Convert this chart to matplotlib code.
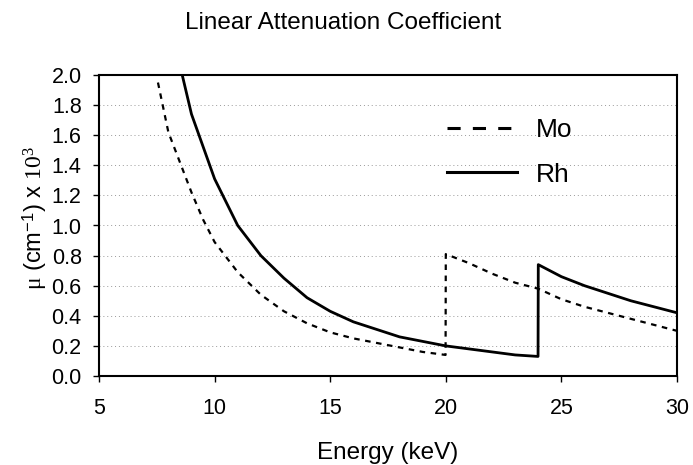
import matplotlib
matplotlib.use('Agg')
import matplotlib.pyplot as plt
from matplotlib.lines import Line2D

plt.rcParams['font.family'] = ['Liberation Sans', 'DejaVu Sans']
plt.rcParams['mathtext.fontset'] = 'custom'
plt.rcParams['mathtext.rm'] = 'Liberation Serif'
plt.rcParams['mathtext.it'] = 'Liberation Serif:italic'

# Mo curve (K-edge at 20 keV)
mo_energy = [7.55, 8, 8.5, 9, 9.5, 10, 11, 12, 13, 14, 15, 16, 17, 18, 19, 19.99,
             20, 21, 22, 23, 24, 25, 26, 27, 28, 29, 30]
mo_mu = [1.95, 1.62, 1.42, 1.22, 1.04, 0.89, 0.69, 0.54, 0.43, 0.35, 0.29,
         0.25, 0.22, 0.19, 0.16, 0.14,
         0.81, 0.75, 0.68, 0.62, 0.58, 0.51, 0.46, 0.42, 0.38, 0.34, 0.30]

# Rh curve (K-edge at ~24 keV)
rh_energy = [8.6, 9, 10, 11, 12, 13, 14, 15, 16, 17, 18, 19, 20, 21, 22, 23,
             23.99, 24, 25, 26, 27, 28, 29, 30]
rh_mu = [2.0, 1.74, 1.31, 1.0, 0.80, 0.65, 0.52, 0.43, 0.36, 0.31, 0.26, 0.23,
         0.20, 0.18, 0.16, 0.14, 0.13,
         0.74, 0.66, 0.60, 0.55, 0.50, 0.46, 0.42]

xticks = [5, 10, 15, 20, 25, 30]
yticks = [0.0, 0.2, 0.4, 0.6, 0.8, 1.0, 1.2, 1.4, 1.6, 1.8, 2.0]

fig = plt.figure(figsize=(6.93, 4.65), dpi=100)
ax = fig.add_axes([99/693, 1 - 376/465, 578/693, 301/465])

ax.plot(mo_energy, mo_mu, color='black', lw=1.6, ls=(0, (2.5, 2.5)))
ax.plot(rh_energy, rh_mu, color='black', lw=2.0, ls='-')

ax.set_xlim(5, 30)
ax.set_ylim(0, 2.0)
ax.set_xticks(xticks)
ax.set_yticks(yticks)
ax.set_yticklabels(['%.1f' % v for v in yticks])
ax.tick_params(direction='out', length=4.5, width=1, labelsize=15.5, pad=8)
ax.tick_params(axis='x', pad=11)

ax.yaxis.grid(True, color='#999999', ls=(0, (1, 3)), lw=0.7)
ax.set_axisbelow(True)
for s in ax.spines.values():
    s.set_linewidth(1.5)

ax.set_xlabel('Energy (keV)', fontsize=17.5)
ax.xaxis.set_label_coords(0.5, -0.22)
ax.set_ylabel(r'$\mathrm{\mu}$ (cm$^{\mathregular{-1}}$) x $\mathrm{10^{3}}$',
              fontsize=17)
ax.yaxis.set_label_coords(-0.087, 0.525)

fig.text(0.495, 1 - 23/465, 'Linear Attenuation Coefficient', ha='center',
         va='center', fontsize=17.5)

handles = [Line2D([], [], color='black', lw=2.2, ls=(0, (4.3, 4.0))),
           Line2D([], [], color='black', lw=2.2, ls='-')]
ax.legend(handles, ['Mo', 'Rh'], loc='upper left',
          bbox_to_anchor=(348/578, 0.857), frameon=False, fontsize=19,
          handlelength=2.65, handletextpad=0.7, labelspacing=0.78,
          borderpad=0, borderaxespad=0)

fig.savefig('out.png', dpi=100)
